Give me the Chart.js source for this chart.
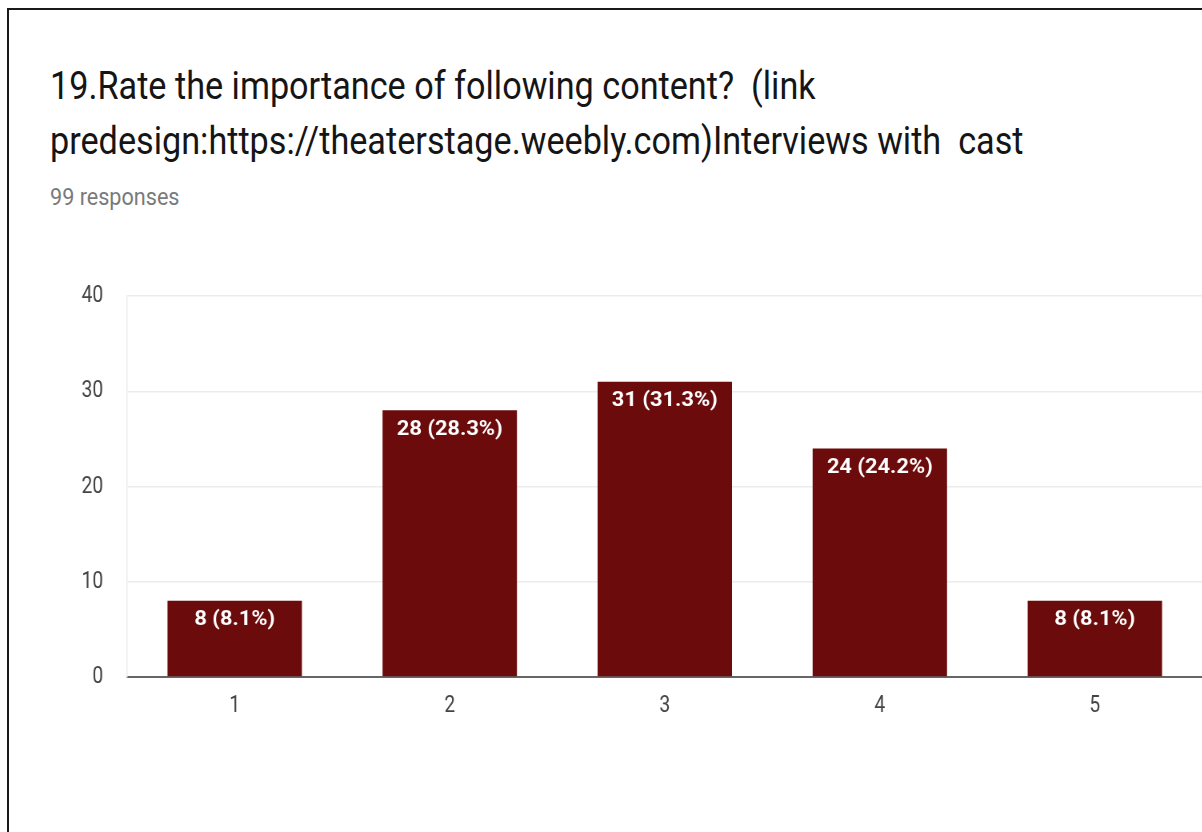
<!DOCTYPE html>
<html>
<head>
<meta charset="utf-8">
<script src="https://cdn.jsdelivr.net/npm/chart.js@4/dist/chart.umd.min.js"></script>
<style>
  html, body { margin: 0; padding: 0; background: #fff; overflow: hidden; }
  body { width: 1202px; height: 832px; position: relative; font-family: Roboto, sans-serif; }
  .frame {
    position: absolute; left: 7px; top: 8px; width: 1200px; height: 830px;
    border-top: 2px solid #1a1a1a; border-left: 2px solid #1a1a1a;
  }
  .heading {
    position: absolute; left: 50px; top: 0; width: 1300px; height: 240px;
    transform: scaleX(0.9); transform-origin: 0 0;
  }
  .title {
    position: absolute; left: 0; top: 59px;
    font-size: 38px; line-height: 55px; color: #151515; white-space: pre;
  }
  .sub {
    position: absolute; left: 0; top: 185px;
    font-size: 24px; line-height: 24px; color: #7a7a7a;
  }
  /* chart is laid out wide, then squeezed horizontally */
  .squeeze {
    position: absolute; left: 0; top: 0; width: 1503px; height: 832px;
    transform: scaleX(0.8); transform-origin: 0 0;
  }
  canvas { position: absolute; left: 0; top: 0; }
</style>
</head>
<body>
<div class="frame"></div>
<div class="heading">
  <div class="title">19.Rate the importance of following content?  (link
predesign:https://theaterstage.weebly.com)Interviews with  cast</div>
  <div class="sub">99 responses</div>
</div>
<div class="squeeze">
  <canvas id="chart" width="1503" height="832"></canvas>
</div>
<script>
// Rating scale and response counts
const ratings = ['1', '2', '3', '4', '5'];
const responses = [8, 28, 31, 24, 8];
const yTicks = [0, 10, 20, 30, 40];

const total = responses.reduce((a, b) => a + b, 0);

// White "count (pct%)" label just inside the top of each bar
const barLabels = {
  id: 'barLabels',
  afterDatasetsDraw(chart) {
    const ctx = chart.ctx;
    const meta = chart.getDatasetMeta(0);
    meta.data.forEach((bar, i) => {
      const v = responses[i];
      const pct = (v / total * 100).toFixed(1);
      ctx.save();
      ctx.translate(bar.x, bar.y + 19);
      ctx.scale(1.3, 1);
      ctx.fillStyle = '#ffffff';
      ctx.font = 'bold 21px Roboto, sans-serif';
      ctx.textAlign = 'center';
      ctx.textBaseline = 'middle';
      ctx.fillText(`${v} (${pct}%)`, 0, 0);
      ctx.restore();
    });
  }
};

new Chart(document.getElementById('chart'), {
  type: 'bar',
  data: {
    labels: ratings,
    datasets: [{
      data: responses,
      backgroundColor: '#6c0b0b',
      borderWidth: 0,
      categoryPercentage: 0.625,
      barPercentage: 1
    }]
  },
  options: {
    responsive: false,
    animation: false,
    layout: { padding: { top: 296, right: 0, bottom: 115, left: 0 } },
    plugins: { legend: { display: false }, tooltip: { enabled: false } },
    scales: {
      x: {
        grid: { display: false, drawTicks: false },
        border: { color: '#666666', width: 2 },
        ticks: { color: '#444444', font: { family: 'Roboto', size: 24 }, padding: 15 },
        afterFit: (scale) => { scale.height = 40; }
      },
      y: {
        min: 0,
        max: 40,
        afterBuildTicks: (scale) => { scale.ticks = yTicks.map(v => ({ value: v })); },
        grid: { color: '#ececec', lineWidth: 1.5, drawTicks: false },
        border: { display: true, color: '#ececec', width: 1.5 },
        ticks: { color: '#444444', font: { family: 'Roboto', size: 24 }, padding: 30 },
        afterFit: (scale) => { scale.width = 159; }
      }
    }
  },
  plugins: [barLabels]
});
</script>
</body>
</html>
